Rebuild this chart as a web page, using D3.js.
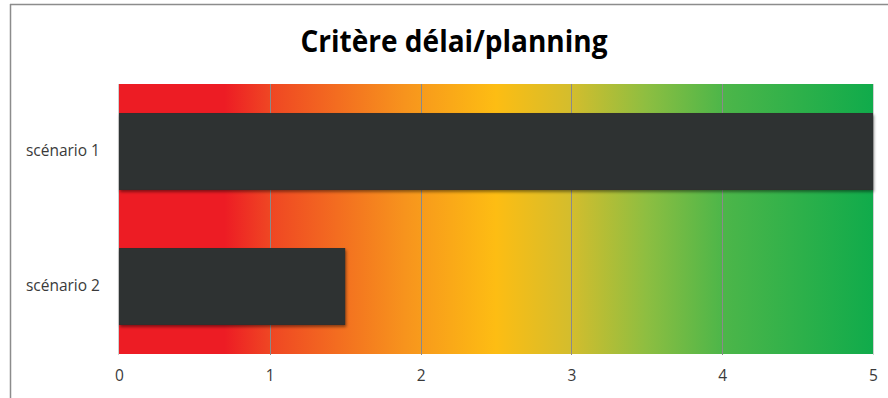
<!DOCTYPE html>
<html><head><meta charset="utf-8">
<script src="https://cdn.jsdelivr.net/npm/d3@7"></script>
<style>html,body{margin:0;padding:0;background:#fff;}</style>
</head><body>
<script>
const title = "Critère délai/planning";
const categories = ["scénario 1", "scénario 2"];
const values = [5, 1.5];
const tickValues = [0, 1, 2, 3, 4, 5];
const gradientStops = [
  [0.00, "#ED1C24"], [0.14, "#ED1C24"], [0.20, "#EF4623"], [0.38, "#F7941D"],
  [0.50, "#FDBD13"], [0.60, "#D3BD2D"], [0.70, "#8DBE41"], [0.80, "#4DB649"], [1.00, "#10AB4B"]
];

const W = 888, H = 398;
const svg = d3.select("body").append("svg").attr("width", W).attr("height", H);
const x = d3.scaleLinear().domain([0, 5]).range([119, 873]);
const y = d3.scaleBand().domain(categories).range([84, 354]).paddingInner(0.43).paddingOuter(0.215);

const defs = svg.append("defs");
const lg = defs.append("linearGradient").attr("id", "bg").attr("gradientUnits", "userSpaceOnUse")
  .attr("x1", x(0)).attr("x2", x(5)).attr("y1", 0).attr("y2", 0);
gradientStops.forEach(s => lg.append("stop").attr("offset", s[0]).attr("stop-color", s[1]));
const f = defs.append("filter").attr("id", "sh").attr("x", "-5%").attr("y", "-20%").attr("width", "115%").attr("height", "150%");
f.append("feDropShadow").attr("dx", 1).attr("dy", 2).attr("stdDeviation", 1.8).attr("flood-color", "#000").attr("flood-opacity", 0.45);

// outer border (left & top)
svg.append("line").attr("x1", 10.5).attr("x2", 10.5).attr("y1", 4).attr("y2", H).attr("stroke", "#8c8c8c").attr("stroke-width", 1.5);
svg.append("line").attr("x1", 10).attr("x2", W).attr("y1", 4.5).attr("y2", 4.5).attr("stroke", "#8c8c8c").attr("stroke-width", 1.5);

// title
svg.append("text").attr("x", 454).attr("y", 52).attr("text-anchor", "middle")
  .attr("font-family", "'Open Sans', sans-serif").attr("font-weight", "bold").attr("font-size", 31)
  .attr("textLength", 307).attr("lengthAdjust", "spacingAndGlyphs").attr("fill", "#000").text(title);

// background gradient
svg.append("rect").attr("x", x(0)).attr("y", 84).attr("width", x(5) - x(0)).attr("height", 270).attr("fill", "url(#bg)");

// gridlines
svg.append("g").selectAll("line").data(tickValues.slice(1, 5)).join("line")
  .attr("x1", d => Math.round(x(d)) + 0.5).attr("x2", d => Math.round(x(d)) + 0.5)
  .attr("y1", 84).attr("y2", 355).attr("stroke", "#8a8a8a").attr("stroke-width", 1);
svg.append("line").attr("x1", x(5) + 0.5).attr("x2", x(5) + 0.5).attr("y1", 84).attr("y2", 355).attr("stroke", "#d0d0d0");
svg.append("line").attr("x1", x(0) - 0.5).attr("x2", x(0) - 0.5).attr("y1", 84).attr("y2", 355).attr("stroke", "#d0d0d0");

// bars
svg.append("g").selectAll("rect").data(categories).join("rect")
  .attr("x", x(0)).attr("y", d => y(d))
  .attr("width", (d, i) => x(values[i]) - x(0)).attr("height", y.bandwidth())
  .attr("fill", "#2f3030").attr("filter", "url(#sh)");

// x axis
const xa = svg.append("g").attr("transform", "translate(0,355)")
  .call(d3.axisBottom(x).tickValues(tickValues).tickFormat(d3.format("d")).tickSize(0).tickPadding(15));
xa.select(".domain").remove();
xa.selectAll("text").attr("font-family", "'Open Sans', sans-serif").attr("font-size", 15.5).attr("fill", "#3a3a3a");

// y axis
const ya = svg.append("g").attr("transform", "translate(100,0)")
  .call(d3.axisLeft(y).tickSize(0).tickPadding(0));
ya.select(".domain").remove();
ya.selectAll("text").attr("font-family", "'Open Sans', sans-serif").attr("font-size", 15.5).attr("fill", "#3a3a3a");
</script>
</body></html>
